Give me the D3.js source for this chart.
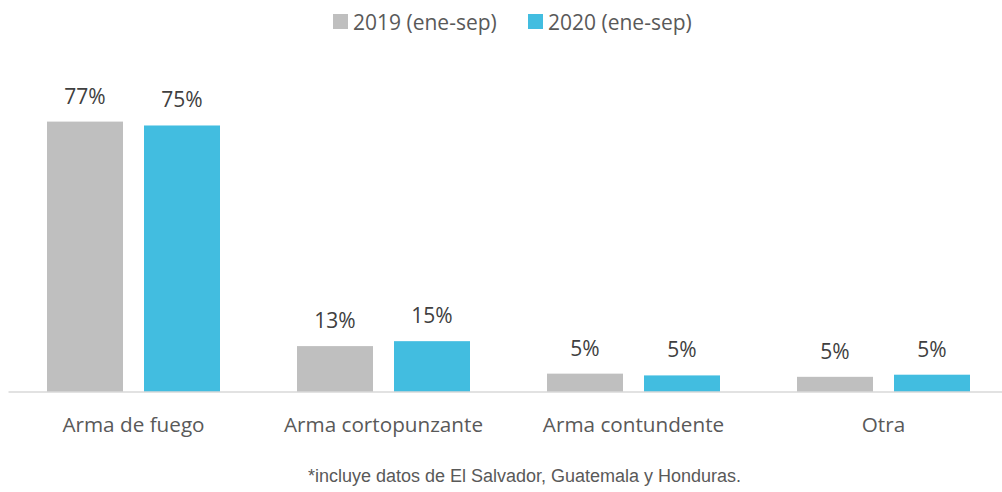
<!DOCTYPE html>
<html>
<head>
<meta charset="utf-8">
<script src="https://cdn.jsdelivr.net/npm/d3@7"></script>
<style>
  body { margin: 0; background: #fff; }
  svg { display: block; }
  .lbl { font-family: "Open Sans", sans-serif; }
</style>
</head>
<body>
<div id="chart"></div>
<script>
// data
var categories = ['Arma de fuego', 'Arma cortopunzante', 'Arma contundente', 'Otra'];
var seriesNames = ['2019 (ene-sep)', '2020 (ene-sep)'];
var values2019 = [76.6, 13.0, 5.2, 4.3];
var values2020 = [75.5, 14.4, 4.7, 4.9];
var labels2019 = ['77%', '13%', '5%', '5%'];
var labels2020 = ['75%', '15%', '5%', '5%'];
var colors = ['#bfbfbf', '#42bde0'];
var footnote = '*incluye datos de El Salvador, Guatemala y Honduras.';

var svgWidth = 1002;
var svgHeight = 492;
var baseY = 392;

var svg = d3.select('#chart').append('svg')
  .attr('width', svgWidth)
  .attr('height', svgHeight);

var x0 = d3.scaleBand()
  .domain(categories)
  .range([8.5, 1008.5])
  .paddingInner(0.308)
  .paddingOuter(0.154);

var x1 = d3.scaleBand()
  .domain(seriesNames)
  .range([0, x0.bandwidth()])
  .paddingInner(0.2165);

var y = d3.scaleLinear()
  .domain([0, 80])
  .range([baseY, baseY - 80 * 3.53]);

var rows = categories.map(function(c, i) {
  return {
    cat: c,
    bars: [
      {s: seriesNames[0], v: values2019[i], t: labels2019[i], c: colors[0]},
      {s: seriesNames[1], v: values2020[i], t: labels2020[i], c: colors[1]}
    ]
  };
});

var groups = svg.selectAll('.grp')
  .data(rows)
  .enter()
  .append('g')
  .attr('class', 'grp')
  .attr('transform', d => `translate(${x0(d.cat)}, 0)`);

groups.selectAll('rect')
  .data(d => d.bars)
  .enter()
  .append('rect')
  .attr('x', d => x1(d.s))
  .attr('y', d => y(d.v))
  .attr('width', x1.bandwidth())
  .attr('height', d => baseY - y(d.v))
  .attr('fill', d => d.c);

// value labels above bars
groups.selectAll('.val')
  .data(d => d.bars)
  .enter()
  .append('text')
  .attr('class', 'lbl val')
  .attr('x', d => x1(d.s) + x1.bandwidth() / 2)
  .attr('y', d => y(d.v) - 18)
  .attr('text-anchor', 'middle')
  .attr('font-size', '21px')
  .attr('fill', '#404040')
  .text(d => d.t);

// baseline
svg.append('line')
  .attr('x1', 8.5)
  .attr('x2', svgWidth)
  .attr('y1', baseY)
  .attr('y2', baseY)
  .attr('stroke', '#d9d9d9')
  .attr('stroke-width', 1.5);

// category labels
svg.selectAll('.cat')
  .data(categories)
  .enter()
  .append('text')
  .attr('class', 'lbl cat')
  .attr('x', d => x0(d) + x0.bandwidth() / 2)
  .attr('y', 432)
  .attr('text-anchor', 'middle')
  .attr('font-size', '20.7px')
  .attr('fill', '#595959')
  .text(d => d);

// legend
var legendX = [333, 528];
var legend = svg.selectAll('.leg')
  .data(seriesNames)
  .enter()
  .append('g')
  .attr('class', 'leg')
  .attr('transform', (d, i) => `translate(${legendX[i]}, 14)`);

legend.append('rect')
  .attr('width', 15)
  .attr('height', 15)
  .attr('fill', (d, i) => colors[i]);

legend.append('text')
  .attr('class', 'lbl')
  .attr('x', 20)
  .attr('y', 15.5)
  .attr('font-size', '21px')
  .attr('fill', '#595959')
  .text(d => d);

// footnote
svg.append('text')
  .attr('x', 524.5)
  .attr('y', 482)
  .attr('text-anchor', 'middle')
  .attr('font-family', '"Liberation Sans", Arial, sans-serif')
  .attr('font-size', '18px')
  .attr('fill', '#595959')
  .text(footnote);
</script>
</body>
</html>
